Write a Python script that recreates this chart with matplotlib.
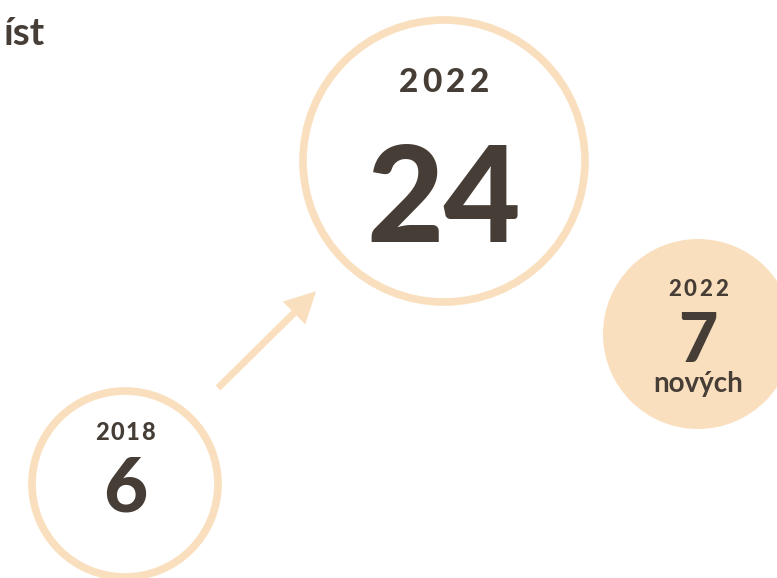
import matplotlib
matplotlib.use("Agg")
import matplotlib.pyplot as plt
from matplotlib.patches import Circle, FancyArrow

# data
years = ["2018", "2022", "2022"]
values = [6, 24, 7]
notes = ["", "", "nových"]
title = "íst"

ink = "#463e36"
peach = "#f9dfbd"

plt.rcParams["font.family"] = ["Lato", "DejaVu Sans"]

fig = plt.figure(figsize=(7.77, 5.78), dpi=100)
ax = fig.add_axes([0, 0, 1, 1])
ax.set_xlim(0, 777)
ax.set_ylim(578, 0)
ax.set_aspect("equal")
ax.axis("off")

# circle layout: center x, center y, radius, filled?
cx = [125, 444, 698]
cy = [484, 161, 334]
rad = [93, 141, 95]
filled = [False, False, True]
year_fs = [17, 24, 16]
year_step = [15.5, 23.5, 15.5]
year_base = [440, 92, 296]
val_fs = [55, 96, 49]
val_base = [512, 242, 362]


def spaced(x, y, s, step, **kw):
    # draw a string with wide letter spacing, one glyph per slot
    n = len(s)
    for k, ch in enumerate(s):
        ax.text(x + (k - (n - 1) / 2) * step, y, ch, ha="center",
                va="baseline", **kw)


for i in range(3):
    if filled[i]:
        ax.add_patch(Circle((cx[i], cy[i]), rad[i], facecolor=peach, edgecolor="none"))
    else:
        ax.add_patch(Circle((cx[i], cy[i]), rad[i], facecolor="none",
                            edgecolor=peach, lw=5.5))
    spaced(cx[i], year_base[i], years[i], year_step[i],
           fontsize=year_fs[i], fontweight="black", color=ink)
    ax.text(cx[i], val_base[i], str(values[i]), ha="center", va="baseline",
            fontsize=val_fs[i], fontweight="black", color=ink)
    if notes[i]:
        ax.text(cx[i], 392, notes[i], ha="center", va="baseline",
                fontsize=20, fontweight="bold", color=ink)

# arrow from small circle to the big one
ax.add_patch(FancyArrow(218, 388, 76, -75, width=7, head_width=32,
                        head_length=31, length_includes_head=False,
                        color=peach, lw=0))

ax.text(45, 45, title, ha="right", va="baseline", fontsize=28,
        fontweight="bold", color=ink)

fig.savefig("out.png", dpi=100)
